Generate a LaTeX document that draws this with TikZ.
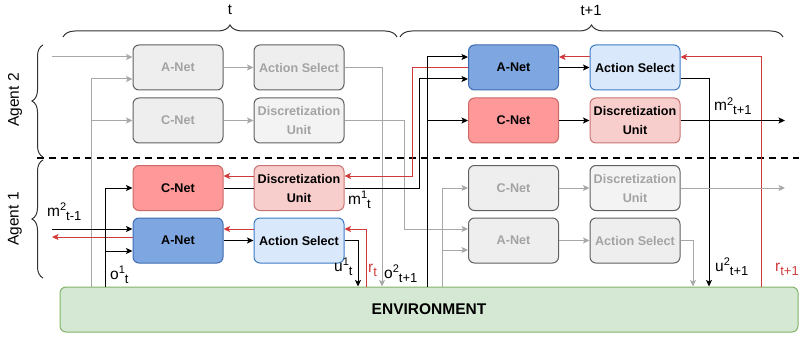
\documentclass[tikz,border=0pt]{standalone}
\usepackage{fontspec}
\setmainfont{Liberation Sans}
\usetikzlibrary{arrows.meta,decorations.pathreplacing,calc}
\definecolor{anetfill}{HTML}{7EA6E0}
\definecolor{anetdraw}{HTML}{3D6DB0}
\definecolor{asfill}{HTML}{DAE8FC}
\definecolor{asdraw}{HTML}{3C7CC4}
\definecolor{cnetfill}{HTML}{FF9999}
\definecolor{cnetdraw}{HTML}{C96A66}
\definecolor{dufill}{HTML}{F8CECC}
\definecolor{dudraw}{HTML}{C97471}
\definecolor{gfill}{HTML}{EEEEEE}
\definecolor{gfilltwo}{HTML}{F3F3F3}
\definecolor{gdraw}{HTML}{606060}
\definecolor{gtext}{HTML}{A3A3A3}
\definecolor{garrow}{HTML}{A8A8A8}
\definecolor{redline}{HTML}{D03A3A}
\definecolor{envfill}{HTML}{D5E8D4}
\definecolor{envdraw}{HTML}{82B366}
\newcommand\upsc[1]{\raisebox{5.5pt}{\fontsize{11}{11}\selectfont #1}}
\newcommand\dnsc[1]{\raisebox{-4pt}{\fontsize{13}{13}\selectfont #1}}
\tikzset{
  box/.style={rounded corners=6pt, minimum width=90pt, minimum height=45pt, line width=1pt,
    font=\fontsize{12.6}{19}\selectfont\bfseries, align=center, inner sep=0pt},
  anetbox/.style={box, fill=anetfill, draw=anetdraw},
  asbox/.style={box, fill=asfill, draw=asdraw},
  cnetbox/.style={box, fill=cnetfill, draw=cnetdraw},
  dubox/.style={box, fill=dufill, draw=dudraw},
  gbox/.style={box, fill=gfill, draw=gdraw, text=gtext},
  gboxtwo/.style={box, fill=gfilltwo, draw=gdraw, text=gtext},
  envbox/.style={rounded corners=6pt, minimum width=738pt, minimum height=45pt, line width=1pt,
    fill=envfill, draw=envdraw, font=\fontsize{15.5}{18}\selectfont\bfseries, inner sep=0pt},
  tip/.style={-{Stealth[length=6.5pt,width=6pt,inset=1.5pt]}},
  barr/.style={tip, line width=1pt, draw=black},
  bline/.style={line width=1pt, draw=black},
  garr/.style={tip, line width=1pt, draw=garrow},
  rarr/.style={tip, line width=1pt, draw=redline},
  lbl/.style={font=\fontsize{15.5}{16}\selectfont, inner sep=0pt, anchor=base west},
  bracestyle/.style={decorate, line width=1pt, draw=black!80},
  dashline/.style={line width=2pt, dash pattern=on 7pt off 5pt},
}
\begin{document}
\begin{tikzpicture}[x=1pt,y=-1pt]
\useasboundingbox (0,0) rectangle (799,339);

% environment
\node[envbox] (env) at (429,309.5) {ENVIRONMENT};

% agent 2, time t (gray)
\node[gbox] (a2anet) at (178,67.5) {A-Net};
\node[gbox] (a2as) at (299,67.5) {Action Select};
\node[gbox] (a2cnet) at (178,120.5) {C-Net};
\node[gboxtwo] (a2du) at (299,120.5) {Discretization\\Unit};

% agent 1, time t
\node[cnetbox] (a1cnet) at (178,188) {C-Net};
\node[dubox] (a1du) at (299,188) {Discretization\\Unit};
\node[anetbox] (a1anet) at (178,240.5) {A-Net};
\node[asbox] (a1as) at (299,240.5) {Action Select};

% agent 2, time t+1
\node[anetbox] (b2anet) at (513.5,67.5) {A-Net};
\node[asbox] (b2as) at (635,67.5) {Action Select};
\node[cnetbox] (b2cnet) at (513.5,120.5) {C-Net};
\node[dubox] (b2du) at (635,120.5) {Discretization\\Unit};

% agent 1, time t+1 (gray)
\node[gbox] (b1cnet) at (513.5,188) {C-Net};
\node[gboxtwo] (b1du) at (635,188) {Discretization\\Unit};
\node[gbox] (b1anet) at (513.5,240.5) {A-Net};
\node[gbox] (b1as) at (635,240.5) {Action Select};

% dashed separator
\draw[dashline] (37,158) -- (799,158);

% braces
\draw[bracestyle, decoration={brace, amplitude=12pt}] (63,37) -- (397,37);
\draw[bracestyle, decoration={brace, amplitude=12pt}] (400,37) -- (783,37);
\draw[bracestyle, decoration={brace, amplitude=11pt}] (43,157) -- (43,45);
\draw[bracestyle, decoration={brace, amplitude=11pt}] (43,278) -- (43,160);
\node[font=\fontsize{14.8}{16}\selectfont] (tl) at (230,10) {t};
\node[font=\fontsize{14.8}{16}\selectfont] (tl1) at (591,10) {t+1};
\node[font=\fontsize{15.5}{16}\selectfont, rotate=90] (ag2) at (15,100) {Agent 2};
\node[font=\fontsize{15.5}{16}\selectfont, rotate=90] (ag1) at (15,219) {Agent 1};

% ---- connectors: agent 2, time t (gray)
\coordinate (in2) at (52,57);
\draw[garr] (in2) -- (a2anet.west |- in2);
\draw[garr] (env.north -| 91,0) |- (a2anet.west |- 0,79);
\draw[garr] (a2cnet.west -| 91,0) -- (a2cnet.west);
\draw[garr] (a2anet.east) -- (a2as.west);
\draw[garr] (a2cnet.east) -- (a2du.west);
\draw[garr] (a2as.east) -| (env.north -| 382,0);
\draw[garr] (a2du.east) -| (404,229) -- (b1anet.west |- 0,229);

% ---- agent 1, time t
\coordinate (m2in) at (52,229);
\coordinate (m2out) at (52,237);
\draw[barr] (m2in) -- (a1anet.west |- m2in);
\draw[rarr] (a1anet.west |- m2out) -- (m2out);
\draw[barr] (env.north -| 105,0) |- (a1cnet.west);
\draw[barr] (105,251) -- (a1anet.west |- 0,251);
\draw[bline] (a1cnet.east) -- (a1du.west);
\draw[rarr] (a1du.west |- 0,176) -- (a1cnet.east |- 0,176);
\draw[rarr] (a1as.west |- 0,229) -- (a1anet.east |- 0,229);
\draw[barr] (a1anet.east) -- (a1as.west);
\draw[barr] (a1as.east) -| (env.north -| 358,0);
\draw[rarr] (env.north -| 366,0) |- (a1as.east |- 0,229);
\draw[barr] (a1du.east) -| (419,79) -- (b2anet.west |- 0,79);
\draw[rarr] (b2anet.west |- 0,68) -| (412,176) -- (a1du.east |- 0,176);
\draw[barr] (env.north -| 427,0) |- (b2anet.west |- 0,57);
\draw[barr] (b2cnet.west -| 427,0) -- (b2cnet.west);

% ---- agent 2, time t+1
\draw[barr] (b2anet.east) -- (b2as.west);
\draw[rarr] (b2as.west |- 0,57) -- (b2anet.east |- 0,57);
\draw[rarr] (env.north -| 761,0) |- (b2as.east |- 0,57);
\draw[barr] (b2as.east |- 0,79) -| (env.north -| 709,0);
\draw[barr] (b2cnet.east) -- (b2du.west);
\coordinate (m2next) at (785,120.5);
\draw[barr] (b2du.east) -- (m2next);

% ---- agent 1, time t+1 (gray)
\draw[garr] (env.north -| 442,0) |- (b1cnet.west);
\draw[garr] (442,250) -- (b1anet.west |- 0,250);
\draw[garr] (b1cnet.east) -- (b1du.west);
\draw[garr] (b1anet.east) -- (b1as.west);
\coordinate (m1next) at (785,188);
\draw[garr] (b1du.east) -- (m1next);
\draw[garr] (b1as.east) -| (env.north -| 693,0);

% ---- labels
\node[lbl] (lm2a) at (47,216) {m\upsc{2}\dnsc{t-1}};
\node[lbl] (lm1) at (348,204) {m\upsc{1}\dnsc{t}};
\node[lbl] (lo1) at (110,279) {o\upsc{1}\dnsc{t}};
\node[lbl] (lu1) at (334,271) {u\upsc{1}\dnsc{t}};
\node[lbl, text=redline] (lrt) at (368,272) {r\dnsc{t}};
\node[lbl] (lo2) at (384,278) {o\upsc{2}\dnsc{t+1}};
\node[lbl] (lm2b) at (714,111) {m\upsc{2}\dnsc{t+1}};
\node[lbl] (lu2) at (715,271) {u\upsc{2}\dnsc{t+1}};
\node[lbl, text=redline] (lrt1) at (775,271) {r\dnsc{t+1}};
\end{tikzpicture}
\end{document}
